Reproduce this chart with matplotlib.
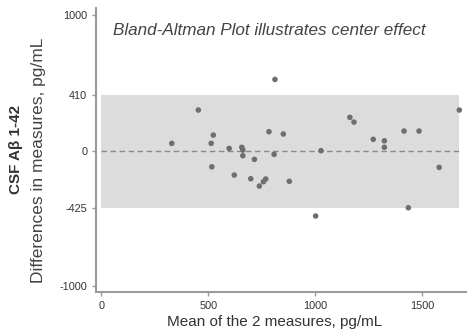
import matplotlib
matplotlib.use("Agg")
import matplotlib.pyplot as plt

# Bland-Altman data (mean, difference), pg/mL
mean_vals = [454, 330, 524, 514, 517, 812, 1162, 784, 851, 598, 657, 662, 662,
             716, 808, 1027, 622, 699, 739, 758, 769, 879, 1002, 1181, 1271,
             1323, 1323, 1415, 1485, 1673, 1579, 1435]
diff_vals = [299, 53, 114, 53, -120, 525, 245, 139, 122, 16, 24, 4, -38,
             -65, -28, -1, -181, -208, -262, -230, -210, -227, -483, 210, 83,
             72, 24, 144, 144, 299, -124, -422]

upper_loa = 410
lower_loa = -425
band_end = 1670

y_ticks = [1000, 410, 0, -425, -1000]
x_ticks = [0, 500, 1000, 1500]

plt.rcParams['font.family'] = ['Liberation Sans', 'DejaVu Sans']

fig = plt.figure(figsize=(4.67, 3.33), dpi=100)
ax = fig.add_axes([0.206, 0.123, 0.794, 0.853])

# limits-of-agreement band and zero line
ax.fill_between([0, band_end], lower_loa, upper_loa, color='#dcdcdc', lw=0, zorder=0)
ax.plot([0, band_end], [0, 0], ls=(0, (4, 2.5)), color='#8a8a8a', lw=1.0, zorder=1)

ax.scatter(mean_vals, diff_vals, s=16, color='#6e6e6e', edgecolor='none', zorder=3)

ax.set_xlim(-23, 1709)
ax.set_ylim(-1044, 1052)
ax.set_yticks(y_ticks)
ax.set_yticklabels([str(v) for v in y_ticks])
ax.set_xticks(x_ticks)

for side in ['top', 'right']:
    ax.spines[side].set_visible(False)
for side in ['left', 'bottom']:
    ax.spines[side].set_color('#9a9a9a')
    ax.spines[side].set_linewidth(1.5)
ax.tick_params(axis='both', colors='#9a9a9a', labelcolor='#333333',
               labelsize=7.8, length=3, width=1)

ax.text(56, 889, 'Bland-Altman Plot illustrates center effect', style='italic',
        fontsize=12.3, color='#444444', va='center')

fig.text(0.589, 0.033, 'Mean of the 2 measures, pg/mL', ha='center', va='center',
         fontsize=11, color='#333333')
fig.text(0.034, 0.55, 'CSF A\u03b2 1-42', rotation=90, ha='center', va='center',
         fontsize=11, fontweight='bold', color='#333333')
fig.text(0.083, 0.52, 'Differences in measures, pg/mL', rotation=90, ha='center',
         va='center', fontsize=12.5, color='#444444')

fig.savefig('out.png', dpi=100)
